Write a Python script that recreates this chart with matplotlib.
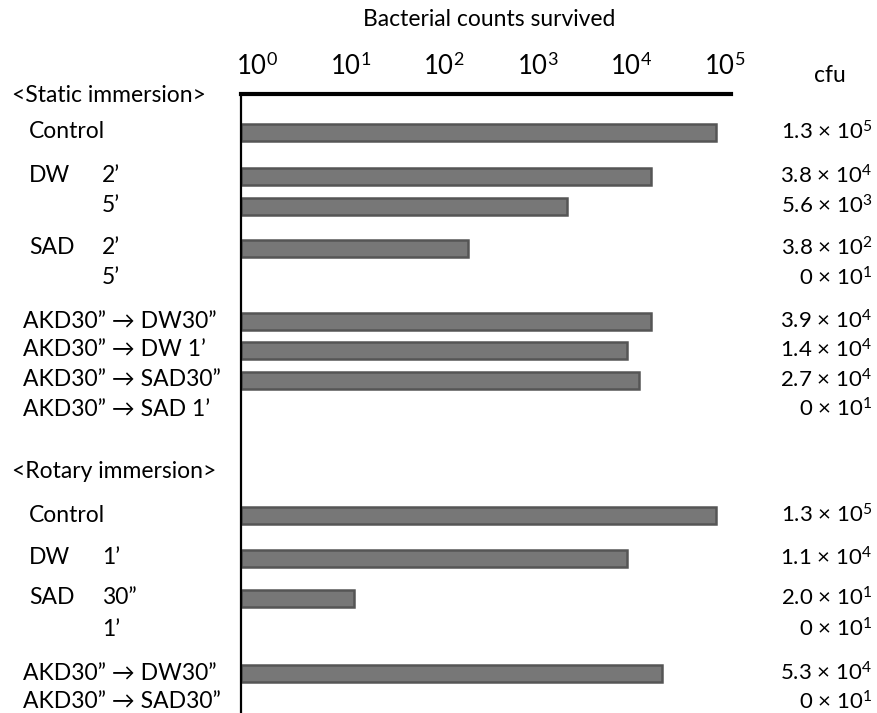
import matplotlib
matplotlib.use('Agg')
import matplotlib.pyplot as plt
import numpy as np

plt.rcParams['font.family'] = ['Lato', 'DejaVu Sans']
plt.rcParams['mathtext.fontset'] = 'custom'
plt.rcParams['mathtext.rm'] = 'Lato'
plt.rcParams['mathtext.it'] = 'Lato:italic'
plt.rcParams['mathtext.bf'] = 'Lato:bold'

# rows: treatment, time, bar value, cfu label
treatments = ['Control', 'DW', '', 'SAD', '',
              'AKD30” → DW30”', 'AKD30” → DW 1’', 'AKD30” → SAD30”', 'AKD30” → SAD 1’',
              'Control', 'DW', 'SAD', '',
              'AKD30” → DW30”', 'AKD30” → SAD30”']
times = ['', '2’', '5’', '2’', '5’', '', '', '', '',
         '', '1’', '30”', '1’', '', '']
bar_values = [8.1e4, 1.63e4, 2.1e3, 1.8e2, 0,
              1.63e4, 9.1e3, 1.22e4, 0,
              8.1e4, 9.0e3, 11, 0,
              2.16e4, 0]
cfu_mant = ['1.3', '3.8', '5.6', '3.8', '0', '3.9', '1.4', '2.7', '0',
            '1.3', '1.1', '2.0', '0', '5.3', '0']
cfu_exp = [5, 4, 3, 2, 1, 4, 4, 4, 1, 5, 4, 1, 1, 4, 1]
headers = ['<Static immersion>', '<Rotary immersion>']
tick_exp = [0, 1, 2, 3, 4, 5]

# layout (pixel rows of the original figure)
W, H = 877, 713
row_y = [132, 176, 206, 248, 278, 321, 350, 380, 409, 515, 558, 598, 629, 673, 702]
header_y = [96, 471]
ax_left, ax_right, ax_top = 241, 731, 94

fig = plt.figure(figsize=(W / 100, H / 100), dpi=100)
ax = fig.add_axes([ax_left / W, 0, (ax_right - ax_left) / W, (H - ax_top) / H])

# log axis: 10^0 label at ~257 px, 93.4 px per decade
xmin = 10 ** ((ax_left - 257.2) / 93.4)
xmax = 10 ** ((ax_right - 257.2) / 93.4)
ax.set_xscale('log')
ax.set_xlim(xmin, xmax)
ax.set_ylim(H, ax_top)

for y, v in zip(row_y, bar_values):
    if v > 0:
        ax.barh(y, v - xmin, left=xmin, height=17, color='#777777',
                edgecolor='#555555', linewidth=1.8)

for s in ['right', 'bottom']:
    ax.spines[s].set_visible(False)
ax.spines['top'].set_linewidth(3)
ax.spines['left'].set_linewidth(1.6)
ax.xaxis.tick_top()
ax.set_xticks([10.0 ** e for e in tick_exp], [f'10$^{{{e}}}$' for e in tick_exp])
ax.xaxis.set_minor_locator(matplotlib.ticker.NullLocator())
ax.tick_params(axis='x', length=0, pad=10, labelsize=18.5)
ax.set_yticks([])

def px(x):
    return (x - ax_left) / (ax_right - ax_left)

tr = ax.get_yaxis_transform()
fs = 16.5
for t, tm, y in zip(treatments, times, row_y):
    if t.startswith('AKD'):
        ax.text(px(23), y, t, transform=tr, ha='left', va='center', fontsize=fs, clip_on=False)
    elif t:
        ax.text(px(29), y, t, transform=tr, ha='left', va='center', fontsize=fs, clip_on=False)
    if tm:
        ax.text(px(102), y, tm, transform=tr, ha='left', va='center', fontsize=fs, clip_on=False)

for h, y in zip(headers, header_y):
    ax.text(px(12), y, h, transform=tr, ha='left', va='center', fontsize=fs, clip_on=False)

for m, e, y in zip(cfu_mant, cfu_exp, row_y):
    ax.text(px(872), y, f'{m} × 10$^{{{e}}}$', transform=tr, ha='right', va='center',
            fontsize=16, clip_on=False)

fig.text(830 / W, 1 - 75 / H, 'cfu', ha='center', va='center', fontsize=fs)
fig.text(489 / W, 1 - 20 / H, 'Bacterial counts survived', ha='center', va='center', fontsize=fs)

fig.savefig('out.png', dpi=100)
